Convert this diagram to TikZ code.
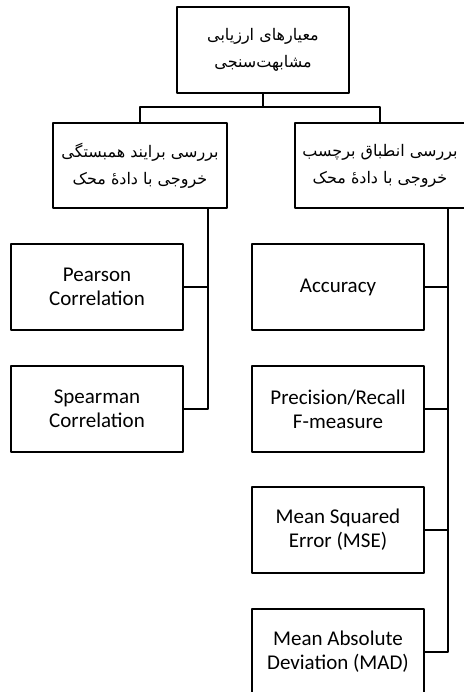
\documentclass[tikz,border=0pt]{standalone}
\usepackage{fontspec}
\setmainfont{Carlito}
\newfontfamily\fafont[Script=Arabic]{DejaVu Sans}
\TeXXeTstate=1
\newcommand{\fa}[1]{\beginR #1\endR}
\begin{document}
\begin{tikzpicture}[x=1pt,y=-1pt,line join=round,line width=1.8pt]
		\tikzset{box/.style={draw,rectangle,minimum width=172pt,minimum height=86pt,align=center,inner sep=0pt,font=\fontsize{21}{24}\selectfont},
			fabox/.style={box,font=\fafont\fontsize{16}{27}\selectfont}}
		\useasboundingbox (0,0) rectangle (463,692);
		\node[fabox] (top) at (263,50) {\fa{معیارهای ارزیابی}\\\fa{مشابهت‌سنجی}};
		\node[fabox,minimum width=174pt,minimum height=85pt] (corr) at (140,165.5) {\fa{بررسی برایند همبستگی}\\\fa{خروجی با دادهٔ محک}};
		\node[fabox,minimum width=170pt,minimum height=85pt] (label) at (380,165.5) {\fa{بررسی انطباق برچسب}\\\fa{خروجی با دادهٔ محک}};
		\node[box] (pearson) at (97,287) {Pearson\\Correlation};
		\node[box] (spearman) at (97,409) {Spearman\\Correlation};
		\node[box] (acc) at (338,287) {Accuracy};
		\node[box] (prf) at (338,409) {Precision/Recall\\F-measure};
		\node[box] (mse) at (338,530) {Mean Squared\\Error (MSE)};
		\node[box] (mad) at (338,652) {Mean Absolute\\Deviation (MAD)};
		\coordinate (lx) at (208,0);
		\coordinate (rx) at (448,0);
		\draw (top.south) -- ++(0,13) -| (corr.north);
		\draw (top.south) -- ++(0,13) -| (label.north);
		\draw (corr.south -| lx) |- (spearman.east);
		\draw (pearson.east) -- (pearson.east -| lx);
		\draw (label.south -| rx) |- (mad.east);
		\foreach \n in {acc,prf,mse}
		\draw (\n.east) -- (\n.east -| rx);
	\end{tikzpicture}
\end{document}
